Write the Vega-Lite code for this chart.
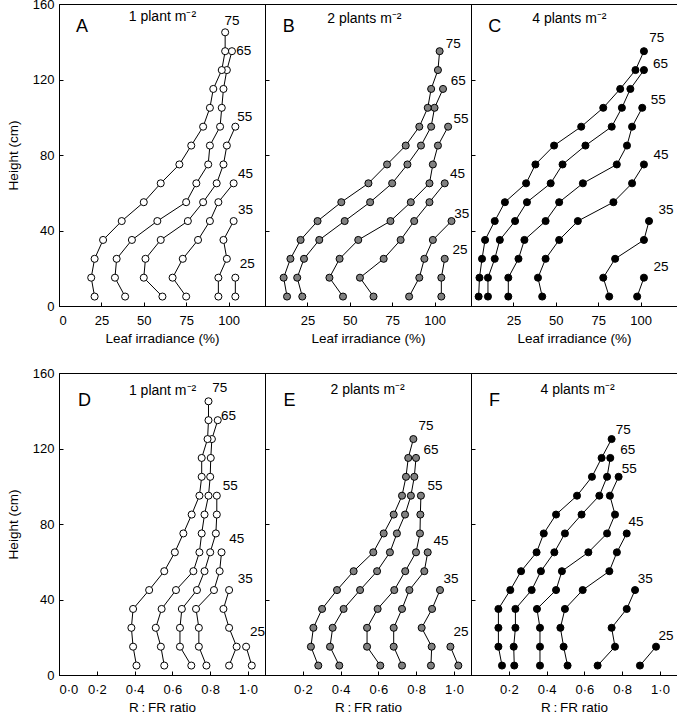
{
"$schema": "https://vega.github.io/schema/vega-lite/v6.json",
"padding": {"left": 5, "top": -3, "right": 0, "bottom": 0},
"background": "white",
"spacing": 21,
"datasets": {
"pts": [
{"p":"A","a":25,"h":5,"v":104},{"p":"A","a":25,"h":15,"v":104},
{"p":"A","a":35,"h":5,"v":94},{"p":"A","a":35,"h":15,"v":94},{"p":"A","a":35,"h":25,"v":99},{"p":"A","a":35,"h":35,"v":97},{"p":"A","a":35,"h":45,"v":103},
{"p":"A","a":45,"h":5,"v":75},{"p":"A","a":45,"h":15,"v":67},{"p":"A","a":45,"h":25,"v":73},{"p":"A","a":45,"h":35,"v":82},{"p":"A","a":45,"h":45,"v":89},{"p":"A","a":45,"h":55,"v":94},{"p":"A","a":45,"h":65,"v":103},
{"p":"A","a":55,"h":5,"v":61},{"p":"A","a":55,"h":15,"v":50},{"p":"A","a":55,"h":25,"v":51},{"p":"A","a":55,"h":35,"v":60},{"p":"A","a":55,"h":45,"v":76},{"p":"A","a":55,"h":55,"v":85},{"p":"A","a":55,"h":65,"v":93},{"p":"A","a":55,"h":75,"v":97},{"p":"A","a":55,"h":85,"v":99},{"p":"A","a":55,"h":95,"v":104},
{"p":"A","a":65,"h":5,"v":39},{"p":"A","a":65,"h":15,"v":33},{"p":"A","a":65,"h":25,"v":34},{"p":"A","a":65,"h":35,"v":43},{"p":"A","a":65,"h":45,"v":58},{"p":"A","a":65,"h":55,"v":75},{"p":"A","a":65,"h":65,"v":81},{"p":"A","a":65,"h":75,"v":88},{"p":"A","a":65,"h":85,"v":89},{"p":"A","a":65,"h":95,"v":95},{"p":"A","a":65,"h":105,"v":96},{"p":"A","a":65,"h":115,"v":97},{"p":"A","a":65,"h":125,"v":99},{"p":"A","a":65,"h":135,"v":102},
{"p":"A","a":75,"h":5,"v":21},{"p":"A","a":75,"h":15,"v":19},{"p":"A","a":75,"h":25,"v":21},{"p":"A","a":75,"h":35,"v":26},{"p":"A","a":75,"h":45,"v":37},{"p":"A","a":75,"h":55,"v":50},{"p":"A","a":75,"h":65,"v":60},{"p":"A","a":75,"h":75,"v":71},{"p":"A","a":75,"h":85,"v":78},{"p":"A","a":75,"h":95,"v":85},{"p":"A","a":75,"h":105,"v":89},{"p":"A","a":75,"h":115,"v":91},{"p":"A","a":75,"h":125,"v":96},{"p":"A","a":75,"h":135,"v":98},{"p":"A","a":75,"h":145,"v":98},

{"p":"B","a":25,"h":5,"v":104},{"p":"B","a":25,"h":15,"v":104},{"p":"B","a":25,"h":25,"v":106},
{"p":"B","a":35,"h":5,"v":85},{"p":"B","a":35,"h":15,"v":91},{"p":"B","a":35,"h":25,"v":94},{"p":"B","a":35,"h":35,"v":99},{"p":"B","a":35,"h":45,"v":110},
{"p":"B","a":45,"h":5,"v":64},{"p":"B","a":45,"h":15,"v":56},{"p":"B","a":45,"h":25,"v":70},{"p":"B","a":45,"h":35,"v":80},{"p":"B","a":45,"h":45,"v":88},{"p":"B","a":45,"h":55,"v":97},{"p":"B","a":45,"h":65,"v":106},
{"p":"B","a":55,"h":5,"v":46},{"p":"B","a":55,"h":15,"v":38},{"p":"B","a":55,"h":25,"v":44},{"p":"B","a":55,"h":35,"v":55},{"p":"B","a":55,"h":45,"v":74},{"p":"B","a":55,"h":55,"v":86},{"p":"B","a":55,"h":65,"v":97},{"p":"B","a":55,"h":75,"v":99},{"p":"B","a":55,"h":85,"v":102},{"p":"B","a":55,"h":95,"v":108},
{"p":"B","a":65,"h":5,"v":22},{"p":"B","a":65,"h":15,"v":19},{"p":"B","a":65,"h":25,"v":23},{"p":"B","a":65,"h":35,"v":32},{"p":"B","a":65,"h":45,"v":47},{"p":"B","a":65,"h":55,"v":62},{"p":"B","a":65,"h":65,"v":75},{"p":"B","a":65,"h":75,"v":84},{"p":"B","a":65,"h":85,"v":92},{"p":"B","a":65,"h":95,"v":98},{"p":"B","a":65,"h":105,"v":100},{"p":"B","a":65,"h":115,"v":105},
{"p":"B","a":75,"h":5,"v":13},{"p":"B","a":75,"h":15,"v":11},{"p":"B","a":75,"h":25,"v":15},{"p":"B","a":75,"h":35,"v":21},{"p":"B","a":75,"h":45,"v":31},{"p":"B","a":75,"h":55,"v":45},{"p":"B","a":75,"h":65,"v":61},{"p":"B","a":75,"h":75,"v":72},{"p":"B","a":75,"h":85,"v":83},{"p":"B","a":75,"h":95,"v":91},{"p":"B","a":75,"h":105,"v":96},{"p":"B","a":75,"h":115,"v":98},{"p":"B","a":75,"h":125,"v":102},{"p":"B","a":75,"h":135,"v":103},

{"p":"C","a":25,"h":5,"v":98},{"p":"C","a":25,"h":15,"v":102},
{"p":"C","a":35,"h":5,"v":81.5},{"p":"C","a":35,"h":15,"v":78},{"p":"C","a":35,"h":25,"v":85},{"p":"C","a":35,"h":35,"v":102},{"p":"C","a":35,"h":45,"v":105},
{"p":"C","a":45,"h":5,"v":42},{"p":"C","a":45,"h":15,"v":39.5},{"p":"C","a":45,"h":25,"v":44},{"p":"C","a":45,"h":35,"v":52},{"p":"C","a":45,"h":45,"v":63},{"p":"C","a":45,"h":55,"v":84},{"p":"C","a":45,"h":65,"v":95},{"p":"C","a":45,"h":75,"v":102},
{"p":"C","a":55,"h":5,"v":22},{"p":"C","a":55,"h":15,"v":22},{"p":"C","a":55,"h":25,"v":28},{"p":"C","a":55,"h":35,"v":31.5},{"p":"C","a":55,"h":45,"v":44},{"p":"C","a":55,"h":55,"v":52},{"p":"C","a":55,"h":65,"v":66},{"p":"C","a":55,"h":75,"v":86},{"p":"C","a":55,"h":85,"v":92},{"p":"C","a":55,"h":95,"v":95},{"p":"C","a":55,"h":105,"v":101},
{"p":"C","a":65,"h":5,"v":10},{"p":"C","a":65,"h":15,"v":10},{"p":"C","a":65,"h":25,"v":14},{"p":"C","a":65,"h":35,"v":17},{"p":"C","a":65,"h":45,"v":26},{"p":"C","a":65,"h":55,"v":33},{"p":"C","a":65,"h":65,"v":47},{"p":"C","a":65,"h":75,"v":54},{"p":"C","a":65,"h":85,"v":67.5},{"p":"C","a":65,"h":95,"v":83},{"p":"C","a":65,"h":105,"v":89},{"p":"C","a":65,"h":115,"v":94},{"p":"C","a":65,"h":125,"v":102},
{"p":"C","a":75,"h":5,"v":4.5},{"p":"C","a":75,"h":15,"v":5},{"p":"C","a":75,"h":25,"v":6.5},{"p":"C","a":75,"h":35,"v":8.3},{"p":"C","a":75,"h":45,"v":14},{"p":"C","a":75,"h":55,"v":20},{"p":"C","a":75,"h":65,"v":32.5},{"p":"C","a":75,"h":75,"v":38},{"p":"C","a":75,"h":85,"v":49},{"p":"C","a":75,"h":95,"v":65},{"p":"C","a":75,"h":105,"v":78},{"p":"C","a":75,"h":115,"v":88},{"p":"C","a":75,"h":125,"v":97},{"p":"C","a":75,"h":135,"v":102},

{"p":"D","a":25,"h":5,"v":1.02},{"p":"D","a":25,"h":15,"v":0.99},
{"p":"D","a":35,"h":5,"v":0.90},{"p":"D","a":35,"h":15,"v":0.94},{"p":"D","a":35,"h":25,"v":0.90},{"p":"D","a":35,"h":35,"v":0.87},{"p":"D","a":35,"h":45,"v":0.90},
{"p":"D","a":45,"h":5,"v":0.78},{"p":"D","a":45,"h":15,"v":0.74},{"p":"D","a":45,"h":25,"v":0.74},{"p":"D","a":45,"h":35,"v":0.725},{"p":"D","a":45,"h":45,"v":0.82},{"p":"D","a":45,"h":55,"v":0.85},{"p":"D","a":45,"h":65,"v":0.86},
{"p":"D","a":55,"h":5,"v":0.70},{"p":"D","a":55,"h":15,"v":0.64},{"p":"D","a":55,"h":25,"v":0.64},{"p":"D","a":55,"h":35,"v":0.65},{"p":"D","a":55,"h":45,"v":0.73},{"p":"D","a":55,"h":55,"v":0.77},{"p":"D","a":55,"h":65,"v":0.80},{"p":"D","a":55,"h":75,"v":0.83},{"p":"D","a":55,"h":85,"v":0.835},{"p":"D","a":55,"h":95,"v":0.835},
{"p":"D","a":65,"h":5,"v":0.557},{"p":"D","a":65,"h":15,"v":0.539},{"p":"D","a":65,"h":25,"v":0.512},{"p":"D","a":65,"h":35,"v":0.543},{"p":"D","a":65,"h":45,"v":0.619},{"p":"D","a":65,"h":55,"v":0.711},{"p":"D","a":65,"h":65,"v":0.743},{"p":"D","a":65,"h":75,"v":0.755},{"p":"D","a":65,"h":85,"v":0.77},{"p":"D","a":65,"h":95,"v":0.791},{"p":"D","a":65,"h":105,"v":0.80},{"p":"D","a":65,"h":115,"v":0.803},{"p":"D","a":65,"h":125,"v":0.809},{"p":"D","a":65,"h":135,"v":0.84},
{"p":"D","a":75,"h":5,"v":0.41},{"p":"D","a":75,"h":15,"v":0.392},{"p":"D","a":75,"h":25,"v":0.383},{"p":"D","a":75,"h":35,"v":0.392},{"p":"D","a":75,"h":45,"v":0.477},{"p":"D","a":75,"h":55,"v":0.557},{"p":"D","a":75,"h":65,"v":0.613},{"p":"D","a":75,"h":75,"v":0.658},{"p":"D","a":75,"h":85,"v":0.702},{"p":"D","a":75,"h":95,"v":0.743},{"p":"D","a":75,"h":105,"v":0.755},{"p":"D","a":75,"h":115,"v":0.755},{"p":"D","a":75,"h":125,"v":0.786},{"p":"D","a":75,"h":135,"v":0.791},{"p":"D","a":75,"h":145,"v":0.791},

{"p":"E","a":25,"h":5,"v":1.023},{"p":"E","a":25,"h":15,"v":0.981},
{"p":"E","a":35,"h":5,"v":0.878},{"p":"E","a":35,"h":15,"v":0.882},{"p":"E","a":35,"h":25,"v":0.829},{"p":"E","a":35,"h":35,"v":0.884},{"p":"E","a":35,"h":45,"v":0.926},
{"p":"E","a":45,"h":5,"v":0.725},{"p":"E","a":45,"h":15,"v":0.681},{"p":"E","a":45,"h":25,"v":0.681},{"p":"E","a":45,"h":35,"v":0.725},{"p":"E","a":45,"h":45,"v":0.764},{"p":"E","a":45,"h":55,"v":0.843},{"p":"E","a":45,"h":65,"v":0.861},
{"p":"E","a":55,"h":5,"v":0.61},{"p":"E","a":55,"h":15,"v":0.54},{"p":"E","a":55,"h":25,"v":0.54},{"p":"E","a":55,"h":35,"v":0.596},{"p":"E","a":55,"h":45,"v":0.684},{"p":"E","a":55,"h":55,"v":0.742},{"p":"E","a":55,"h":65,"v":0.799},{"p":"E","a":55,"h":75,"v":0.82},{"p":"E","a":55,"h":85,"v":0.822},{"p":"E","a":55,"h":95,"v":0.825},
{"p":"E","a":65,"h":5,"v":0.393},{"p":"E","a":65,"h":15,"v":0.344},{"p":"E","a":65,"h":25,"v":0.358},{"p":"E","a":65,"h":35,"v":0.416},{"p":"E","a":65,"h":45,"v":0.503},{"p":"E","a":65,"h":55,"v":0.593},{"p":"E","a":65,"h":65,"v":0.661},{"p":"E","a":65,"h":75,"v":0.698},{"p":"E","a":65,"h":85,"v":0.741},{"p":"E","a":65,"h":95,"v":0.772},{"p":"E","a":65,"h":105,"v":0.79},{"p":"E","a":65,"h":115,"v":0.799},
{"p":"E","a":75,"h":5,"v":0.282},{"p":"E","a":75,"h":15,"v":0.243},{"p":"E","a":75,"h":25,"v":0.256},{"p":"E","a":75,"h":35,"v":0.302},{"p":"E","a":75,"h":45,"v":0.381},{"p":"E","a":75,"h":55,"v":0.469},{"p":"E","a":75,"h":65,"v":0.573},{"p":"E","a":75,"h":75,"v":0.628},{"p":"E","a":75,"h":85,"v":0.681},{"p":"E","a":75,"h":95,"v":0.725},{"p":"E","a":75,"h":105,"v":0.746},{"p":"E","a":75,"h":115,"v":0.758},{"p":"E","a":75,"h":125,"v":0.785},

{"p":"F","a":25,"h":5,"v":0.894},{"p":"F","a":25,"h":15,"v":0.979},
{"p":"F","a":35,"h":5,"v":0.670},{"p":"F","a":35,"h":15,"v":0.762},{"p":"F","a":35,"h":25,"v":0.744},{"p":"F","a":35,"h":35,"v":0.824},{"p":"F","a":35,"h":45,"v":0.868},
{"p":"F","a":45,"h":5,"v":0.511},{"p":"F","a":45,"h":15,"v":0.49},{"p":"F","a":45,"h":25,"v":0.473},{"p":"F","a":45,"h":35,"v":0.497},{"p":"F","a":45,"h":45,"v":0.591},{"p":"F","a":45,"h":55,"v":0.732},{"p":"F","a":45,"h":65,"v":0.772},{"p":"F","a":45,"h":75,"v":0.824},
{"p":"F","a":55,"h":5,"v":0.365},{"p":"F","a":55,"h":15,"v":0.365},{"p":"F","a":55,"h":25,"v":0.365},{"p":"F","a":55,"h":35,"v":0.349},{"p":"F","a":55,"h":45,"v":0.45},{"p":"F","a":55,"h":55,"v":0.481},{"p":"F","a":55,"h":65,"v":0.621},{"p":"F","a":55,"h":75,"v":0.72},{"p":"F","a":55,"h":85,"v":0.762},{"p":"F","a":55,"h":95,"v":0.735},{"p":"F","a":55,"h":105,"v":0.781},
{"p":"F","a":65,"h":5,"v":0.229},{"p":"F","a":65,"h":15,"v":0.226},{"p":"F","a":65,"h":25,"v":0.235},{"p":"F","a":65,"h":35,"v":0.235},{"p":"F","a":65,"h":45,"v":0.321},{"p":"F","a":65,"h":55,"v":0.37},{"p":"F","a":65,"h":65,"v":0.441},{"p":"F","a":65,"h":75,"v":0.497},{"p":"F","a":65,"h":85,"v":0.585},{"p":"F","a":65,"h":95,"v":0.679},{"p":"F","a":65,"h":105,"v":0.72},{"p":"F","a":65,"h":115,"v":0.737},
{"p":"F","a":75,"h":5,"v":0.164},{"p":"F","a":75,"h":15,"v":0.145},{"p":"F","a":75,"h":25,"v":0.145},{"p":"F","a":75,"h":35,"v":0.145},{"p":"F","a":75,"h":45,"v":0.208},{"p":"F","a":75,"h":55,"v":0.265},{"p":"F","a":75,"h":65,"v":0.347},{"p":"F","a":75,"h":75,"v":0.385},{"p":"F","a":75,"h":85,"v":0.45},{"p":"F","a":75,"h":95,"v":0.561},{"p":"F","a":75,"h":105,"v":0.64},{"p":"F","a":75,"h":115,"v":0.691},{"p":"F","a":75,"h":125,"v":0.744}
],
"lbl": [
{"p":"A","k":"letter","t":"A","v":13.6,"h":148},{"p":"A","k":"title","t":"1 plant m⁻²","v":61,"h":153},
{"p":"A","k":"age","t":"75","v":102,"h":151},{"p":"A","k":"age","t":"65","v":109,"h":135},{"p":"A","k":"age","t":"55","v":109.6,"h":100},{"p":"A","k":"age","t":"45","v":110,"h":70},{"p":"A","k":"age","t":"35","v":110,"h":51},{"p":"A","k":"age","t":"25","v":111,"h":22},
{"p":"B","k":"letter","t":"B","v":14,"h":148},{"p":"B","k":"title","t":"2 plants m⁻²","v":58.6,"h":152},
{"p":"B","k":"age","t":"75","v":111,"h":139},{"p":"B","k":"age","t":"65","v":114,"h":119},{"p":"B","k":"age","t":"55","v":115.6,"h":99},{"p":"B","k":"age","t":"45","v":113.6,"h":70},{"p":"B","k":"age","t":"35","v":116,"h":49},{"p":"B","k":"age","t":"25","v":115,"h":29.6},
{"p":"C","k":"letter","t":"C","v":14,"h":148},{"p":"C","k":"title","t":"4 plants m⁻²","v":58,"h":152},
{"p":"C","k":"age","t":"75","v":109.5,"h":142},{"p":"C","k":"age","t":"65","v":111.8,"h":128},{"p":"C","k":"age","t":"55","v":110.5,"h":109},{"p":"C","k":"age","t":"45","v":112,"h":80},{"p":"C","k":"age","t":"35","v":115,"h":51},{"p":"C","k":"age","t":"25","v":112,"h":20.7},
{"p":"D","k":"letter","t":"D","v":0.135,"h":145},{"p":"D","k":"title","t":"1 plant m⁻²","v":0.548,"h":150.4},
{"p":"D","k":"age","t":"75","v":0.85,"h":152},{"p":"D","k":"age","t":"65","v":0.897,"h":137},{"p":"D","k":"age","t":"55","v":0.906,"h":100},{"p":"D","k":"age","t":"45","v":0.94,"h":72},{"p":"D","k":"age","t":"35","v":0.986,"h":51},{"p":"D","k":"age","t":"25","v":1.05,"h":22.7},
{"p":"E","k":"letter","t":"E","v":0.129,"h":145},{"p":"E","k":"title","t":"2 plants m⁻²","v":0.543,"h":151},
{"p":"E","k":"age","t":"75","v":0.852,"h":132},{"p":"E","k":"age","t":"65","v":0.878,"h":119},{"p":"E","k":"age","t":"55","v":0.899,"h":100},{"p":"E","k":"age","t":"45","v":0.931,"h":71},{"p":"E","k":"age","t":"35","v":0.984,"h":51},{"p":"E","k":"age","t":"25","v":1.037,"h":22.6},
{"p":"F","k":"letter","t":"F","v":0.124,"h":145},{"p":"F","k":"title","t":"4 plants m⁻²","v":0.564,"h":151},
{"p":"F","k":"age","t":"75","v":0.806,"h":130},{"p":"F","k":"age","t":"65","v":0.829,"h":119},{"p":"F","k":"age","t":"55","v":0.838,"h":109},{"p":"F","k":"age","t":"45","v":0.873,"h":81},{"p":"F","k":"age","t":"35","v":0.922,"h":51},{"p":"F","k":"age","t":"25","v":1.032,"h":20.8}
]
},
"vconcat": [
{"hconcat": [
{"width":206,"height":302,"layer":[
{"data":{"name":"pts"},"transform":[{"filter":"datum.p==='A'"}],"mark":{"type":"line","color":"black","strokeWidth":1},
"encoding":{"x":{"field":"v","type":"quantitative","scale":{"domain":[0,121.5],"nice":false,"zero":false},"axis":{"title":"Leaf irradiance (%)","values":[0,25,50,75,100]}},
"y":{"field":"h","type":"quantitative","scale":{"domain":[0,160],"nice":false},"axis":{"title":"Height (cm)","values":[0,20,40,60,80,100,120,140,160]}},
"detail":{"field":"a","type":"nominal"},"order":{"field":"h","type":"quantitative"}}},
{"data":{"name":"pts"},"transform":[{"filter":"datum.p==='A'"}],"mark":{"type":"circle","size":50,"fill":"white","stroke":"black","strokeWidth":1,"opacity":1},
"encoding":{"x":{"field":"v","type":"quantitative"},"y":{"field":"h","type":"quantitative"}}},
{"data":{"name":"lbl"},"transform":[{"filter":"datum.p==='A' && datum.k==='age'"}],"mark":{"type":"text","align":"center","baseline":"middle","color":"black","fontSize":13.5},
"encoding":{"x":{"field":"v","type":"quantitative"},"y":{"field":"h","type":"quantitative"},"text":{"field":"t"}}},
{"data":{"name":"lbl"},"transform":[{"filter":"datum.p==='A' && datum.k==='title'"}],"mark":{"type":"text","align":"center","baseline":"middle","color":"black","fontSize":14},
"encoding":{"x":{"field":"v","type":"quantitative"},"y":{"field":"h","type":"quantitative"},"text":{"field":"t"}}},
{"data":{"name":"lbl"},"transform":[{"filter":"datum.p==='A' && datum.k==='letter'"}],"mark":{"type":"text","align":"center","baseline":"middle","color":"black","fontSize":18},
"encoding":{"x":{"field":"v","type":"quantitative"},"y":{"field":"h","type":"quantitative"},"text":{"field":"t"}}}
]},
{"width":206,"height":302,"layer":[
{"data":{"name":"pts"},"transform":[{"filter":"datum.p==='B'"}],"mark":{"type":"line","color":"black","strokeWidth":1},
"encoding":{"x":{"field":"v","type":"quantitative","scale":{"domain":[0,121.5],"nice":false,"zero":false},"axis":{"title":"Leaf irradiance (%)","values":[25,50,75,100]}},
"y":{"field":"h","type":"quantitative","scale":{"domain":[0,160],"nice":false},"axis":{"title":null,"labels":false,"values":[0,20,40,60,80,100,120,140,160]}},
"detail":{"field":"a","type":"nominal"},"order":{"field":"h","type":"quantitative"}}},
{"data":{"name":"pts"},"transform":[{"filter":"datum.p==='B'"}],"mark":{"type":"circle","size":50,"fill":"#808080","stroke":"black","strokeWidth":1,"opacity":1},
"encoding":{"x":{"field":"v","type":"quantitative"},"y":{"field":"h","type":"quantitative"}}},
{"data":{"name":"lbl"},"transform":[{"filter":"datum.p==='B' && datum.k==='age'"}],"mark":{"type":"text","align":"center","baseline":"middle","color":"black","fontSize":13.5},
"encoding":{"x":{"field":"v","type":"quantitative"},"y":{"field":"h","type":"quantitative"},"text":{"field":"t"}}},
{"data":{"name":"lbl"},"transform":[{"filter":"datum.p==='B' && datum.k==='title'"}],"mark":{"type":"text","align":"center","baseline":"middle","color":"black","fontSize":14},
"encoding":{"x":{"field":"v","type":"quantitative"},"y":{"field":"h","type":"quantitative"},"text":{"field":"t"}}},
{"data":{"name":"lbl"},"transform":[{"filter":"datum.p==='B' && datum.k==='letter'"}],"mark":{"type":"text","align":"center","baseline":"middle","color":"black","fontSize":18},
"encoding":{"x":{"field":"v","type":"quantitative"},"y":{"field":"h","type":"quantitative"},"text":{"field":"t"}}}
]},
{"width":206,"height":302,"layer":[
{"data":{"name":"pts"},"transform":[{"filter":"datum.p==='C'"}],"mark":{"type":"line","color":"black","strokeWidth":1},
"encoding":{"x":{"field":"v","type":"quantitative","scale":{"domain":[0,121.5],"nice":false,"zero":false},"axis":{"title":"Leaf irradiance (%)","values":[25,50,75,100]}},
"y":{"field":"h","type":"quantitative","scale":{"domain":[0,160],"nice":false},"axis":{"title":null,"labels":false,"values":[0,20,40,60,80,100,120,140,160]}},
"detail":{"field":"a","type":"nominal"},"order":{"field":"h","type":"quantitative"}}},
{"data":{"name":"pts"},"transform":[{"filter":"datum.p==='C'"}],"mark":{"type":"circle","size":50,"fill":"black","stroke":"black","strokeWidth":1,"opacity":1},
"encoding":{"x":{"field":"v","type":"quantitative"},"y":{"field":"h","type":"quantitative"}}},
{"data":{"name":"lbl"},"transform":[{"filter":"datum.p==='C' && datum.k==='age'"}],"mark":{"type":"text","align":"center","baseline":"middle","color":"black","fontSize":13.5},
"encoding":{"x":{"field":"v","type":"quantitative"},"y":{"field":"h","type":"quantitative"},"text":{"field":"t"}}},
{"data":{"name":"lbl"},"transform":[{"filter":"datum.p==='C' && datum.k==='title'"}],"mark":{"type":"text","align":"center","baseline":"middle","color":"black","fontSize":14},
"encoding":{"x":{"field":"v","type":"quantitative"},"y":{"field":"h","type":"quantitative"},"text":{"field":"t"}}},
{"data":{"name":"lbl"},"transform":[{"filter":"datum.p==='C' && datum.k==='letter'"}],"mark":{"type":"text","align":"center","baseline":"middle","color":"black","fontSize":18},
"encoding":{"x":{"field":"v","type":"quantitative"},"y":{"field":"h","type":"quantitative"},"text":{"field":"t"}}}
]}
], "spacing": 0, "bounds": "flush"},
{"hconcat": [
{"width":206,"height":302,"layer":[
{"data":{"name":"pts"},"transform":[{"filter":"datum.p==='D'"}],"mark":{"type":"line","color":"black","strokeWidth":1},
"encoding":{"x":{"field":"v","type":"quantitative","scale":{"domain":[0,1.09],"nice":false,"zero":false},"axis":{"title":"R\u2009:\u2009FR ratio","values":[0,0.2,0.4,0.6,0.8,1.0],"labelExpr":"replace(format(datum.value,'.1f'),'.','·')"}},
"y":{"field":"h","type":"quantitative","scale":{"domain":[0,160],"nice":false},"axis":{"title":"Height (cm)","values":[0,20,40,60,80,100,120,140,160]}},
"detail":{"field":"a","type":"nominal"},"order":{"field":"h","type":"quantitative"}}},
{"data":{"name":"pts"},"transform":[{"filter":"datum.p==='D'"}],"mark":{"type":"circle","size":50,"fill":"white","stroke":"black","strokeWidth":1,"opacity":1},
"encoding":{"x":{"field":"v","type":"quantitative"},"y":{"field":"h","type":"quantitative"}}},
{"data":{"name":"lbl"},"transform":[{"filter":"datum.p==='D' && datum.k==='age'"}],"mark":{"type":"text","align":"center","baseline":"middle","color":"black","fontSize":13.5},
"encoding":{"x":{"field":"v","type":"quantitative"},"y":{"field":"h","type":"quantitative"},"text":{"field":"t"}}},
{"data":{"name":"lbl"},"transform":[{"filter":"datum.p==='D' && datum.k==='title'"}],"mark":{"type":"text","align":"center","baseline":"middle","color":"black","fontSize":14},
"encoding":{"x":{"field":"v","type":"quantitative"},"y":{"field":"h","type":"quantitative"},"text":{"field":"t"}}},
{"data":{"name":"lbl"},"transform":[{"filter":"datum.p==='D' && datum.k==='letter'"}],"mark":{"type":"text","align":"center","baseline":"middle","color":"black","fontSize":18},
"encoding":{"x":{"field":"v","type":"quantitative"},"y":{"field":"h","type":"quantitative"},"text":{"field":"t"}}}
]},
{"width":206,"height":302,"layer":[
{"data":{"name":"pts"},"transform":[{"filter":"datum.p==='E'"}],"mark":{"type":"line","color":"black","strokeWidth":1},
"encoding":{"x":{"field":"v","type":"quantitative","scale":{"domain":[0,1.09],"nice":false,"zero":false},"axis":{"title":"R\u2009:\u2009FR ratio","values":[0.2,0.4,0.6,0.8,1.0],"labelExpr":"replace(format(datum.value,'.1f'),'.','·')"}},
"y":{"field":"h","type":"quantitative","scale":{"domain":[0,160],"nice":false},"axis":{"title":null,"labels":false,"values":[0,20,40,60,80,100,120,140,160]}},
"detail":{"field":"a","type":"nominal"},"order":{"field":"h","type":"quantitative"}}},
{"data":{"name":"pts"},"transform":[{"filter":"datum.p==='E'"}],"mark":{"type":"circle","size":50,"fill":"#808080","stroke":"black","strokeWidth":1,"opacity":1},
"encoding":{"x":{"field":"v","type":"quantitative"},"y":{"field":"h","type":"quantitative"}}},
{"data":{"name":"lbl"},"transform":[{"filter":"datum.p==='E' && datum.k==='age'"}],"mark":{"type":"text","align":"center","baseline":"middle","color":"black","fontSize":13.5},
"encoding":{"x":{"field":"v","type":"quantitative"},"y":{"field":"h","type":"quantitative"},"text":{"field":"t"}}},
{"data":{"name":"lbl"},"transform":[{"filter":"datum.p==='E' && datum.k==='title'"}],"mark":{"type":"text","align":"center","baseline":"middle","color":"black","fontSize":14},
"encoding":{"x":{"field":"v","type":"quantitative"},"y":{"field":"h","type":"quantitative"},"text":{"field":"t"}}},
{"data":{"name":"lbl"},"transform":[{"filter":"datum.p==='E' && datum.k==='letter'"}],"mark":{"type":"text","align":"center","baseline":"middle","color":"black","fontSize":18},
"encoding":{"x":{"field":"v","type":"quantitative"},"y":{"field":"h","type":"quantitative"},"text":{"field":"t"}}}
]},
{"width":206,"height":302,"layer":[
{"data":{"name":"pts"},"transform":[{"filter":"datum.p==='F'"}],"mark":{"type":"line","color":"black","strokeWidth":1},
"encoding":{"x":{"field":"v","type":"quantitative","scale":{"domain":[0,1.09],"nice":false,"zero":false},"axis":{"title":"R\u2009:\u2009FR ratio","values":[0.2,0.4,0.6,0.8,1.0],"labelExpr":"replace(format(datum.value,'.1f'),'.','·')"}},
"y":{"field":"h","type":"quantitative","scale":{"domain":[0,160],"nice":false},"axis":{"title":null,"labels":false,"values":[0,20,40,60,80,100,120,140,160]}},
"detail":{"field":"a","type":"nominal"},"order":{"field":"h","type":"quantitative"}}},
{"data":{"name":"pts"},"transform":[{"filter":"datum.p==='F'"}],"mark":{"type":"circle","size":50,"fill":"black","stroke":"black","strokeWidth":1,"opacity":1},
"encoding":{"x":{"field":"v","type":"quantitative"},"y":{"field":"h","type":"quantitative"}}},
{"data":{"name":"lbl"},"transform":[{"filter":"datum.p==='F' && datum.k==='age'"}],"mark":{"type":"text","align":"center","baseline":"middle","color":"black","fontSize":13.5},
"encoding":{"x":{"field":"v","type":"quantitative"},"y":{"field":"h","type":"quantitative"},"text":{"field":"t"}}},
{"data":{"name":"lbl"},"transform":[{"filter":"datum.p==='F' && datum.k==='title'"}],"mark":{"type":"text","align":"center","baseline":"middle","color":"black","fontSize":14},
"encoding":{"x":{"field":"v","type":"quantitative"},"y":{"field":"h","type":"quantitative"},"text":{"field":"t"}}},
{"data":{"name":"lbl"},"transform":[{"filter":"datum.p==='F' && datum.k==='letter'"}],"mark":{"type":"text","align":"center","baseline":"middle","color":"black","fontSize":18},
"encoding":{"x":{"field":"v","type":"quantitative"},"y":{"field":"h","type":"quantitative"},"text":{"field":"t"}}}
]}
], "spacing": 0, "bounds": "flush"}
],
"config": {
"font": "Liberation Sans",
"view": {"stroke": "black", "strokeWidth": 1},
"axis": {"grid": false, "domainColor": "black", "domainWidth": 1, "tickColor": "black", "tickWidth": 1, "tickSize": -4, "labelColor": "black", "labelFont": "Liberation Sans", "labelFontSize": 13, "titleFont": "Liberation Sans", "titleFontSize": 13.5, "titleFontWeight": "normal", "titleColor": "black"},
"axisX": {"labelPadding": 12, "titlePadding": 4},
"axisY": {"labelPadding": 9, "titlePadding": 12}
}
}
